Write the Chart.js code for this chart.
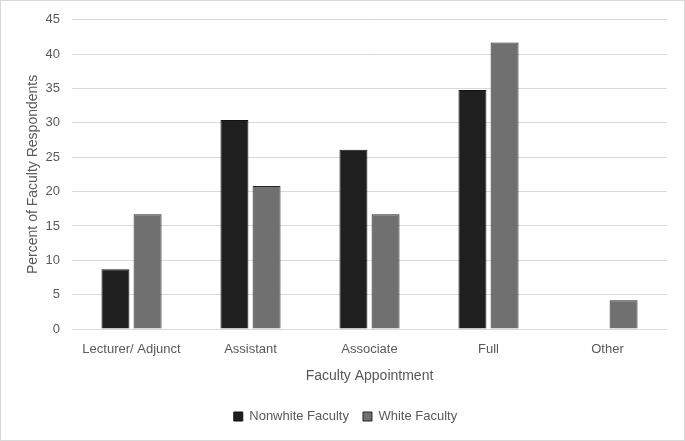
<!DOCTYPE html>
<html><head><meta charset="utf-8">
<script src="https://cdn.jsdelivr.net/npm/chart.js@4/dist/chart.umd.min.js"></script>
<style>html,body{margin:0;padding:0;background:#fff}#wrap{width:685px;height:441px;position:relative}</style>
</head><body><div id="wrap"><canvas id="c" width="685" height="441"></canvas></div>
<script>
const categories = ["Lecturer/ Adjunct", "Assistant", "Associate", "Full", "Other"];
const nonwhite = [8.7, 30.4, 26.1, 34.8, 0];
const white = [16.7, 20.8, 16.7, 41.7, 4.2];
const yTicks = [0, 5, 10, 15, 20, 25, 30, 35, 40, 45];

const FONT = "'Liberation Sans', 'DejaVu Sans', sans-serif";
const TXT = '#595959';

const bgBorder = {
  id: 'bgBorder',
  beforeDraw(chart) {
    const ctx = chart.ctx;
    ctx.save();
    ctx.fillStyle = '#fff';
    ctx.fillRect(0, 0, chart.width, chart.height);
    ctx.strokeStyle = '#d9d9d9';
    ctx.lineWidth = 1;
    ctx.strokeRect(0.5, 0.5, chart.width - 1, chart.height - 1);
    ctx.restore();
  },
  afterLayout(chart) {
    if (chart.legend) { chart.legend.left += 12; chart.legend.right += 12; }
  }
};

new Chart(document.getElementById('c'), {
  type: 'bar',
  data: {
    labels: categories,
    datasets: [
      { label: 'Nonwhite Faculty', data: nonwhite, backgroundColor: '#1f1f1f', borderColor: '#111111', borderWidth: 1 },
      { label: 'White Faculty', data: white, backgroundColor: '#707070', borderColor: '#262626', borderWidth: 1 }
    ]
  },
  options: {
    responsive: false,
    animation: false,
    devicePixelRatio: 1,
    layout: { padding: { top: 19, right: 18, bottom: 8, left: 0 } },
    datasets: { bar: { categoryPercentage: 0.54, barPercentage: 0.87 } },
    plugins: {
      legend: {
        position: 'bottom',
        labels: { font: { family: FONT, size: 13 }, color: TXT, boxWidth: 9, boxHeight: 9, padding: 14 }
      },
      tooltip: { enabled: false }
    },
    scales: {
      x: {
        grid: { display: false },
        border: { display: false },
        ticks: { font: { family: FONT, size: 13 }, color: TXT, padding: 5 },
        title: { display: true, text: 'Faculty Appointment', font: { family: FONT, size: 14 }, color: TXT, padding: { top: 4, bottom: 11 } },
        afterFit(s) { s.height = 67; }
      },
      y: {
        min: 0, max: 45,
        afterBuildTicks(s) { s.ticks = yTicks.map(v => ({ value: v })); },
        grid: { color: '#d9d9d9', lineWidth: 1, drawTicks: false },
        border: { display: false },
        ticks: { font: { family: FONT, size: 13 }, color: TXT, padding: 12 },
        title: { display: true, text: 'Percent of Faculty Respondents', font: { family: FONT, size: 14 }, color: TXT, padding: { top: 25, bottom: 0 } },
        afterFit(s) { s.width = 72; }
      }
    }
  },
  plugins: [bgBorder]
});
</script></body></html>
